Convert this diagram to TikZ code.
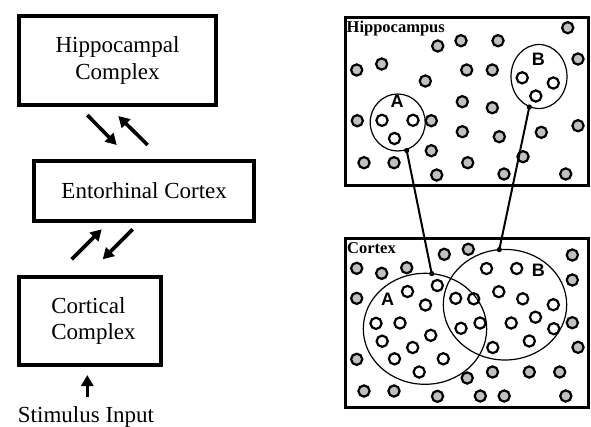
\documentclass[tikz,border=0pt]{standalone}
\usepackage{fontspec}
\setmainfont{Liberation Serif}
\newfontfamily\abfont{Liberation Sans}
\usetikzlibrary{arrows.meta}
\definecolor{cellgray}{RGB}{192,192,192}
\begin{document}
\begin{tikzpicture}[x=1pt,y=-1pt,
  bigbox/.style={draw, line width=4pt, inner sep=0pt, font=\fontsize{23}{26.5}\selectfont, align=center},
  bigtext/.style={inner sep=0pt, font=\fontsize{23}{26.5}\selectfont},
  panel/.style={draw, line width=3pt, inner sep=0pt},
  arr/.style={line width=3.6pt, -{Triangle[length=11pt,width=12pt]}},
  gcell/.style={draw, line width=2.2pt, fill=cellgray},
  wcell/.style={draw, line width=2.2pt},
  assembly/.style={draw, line width=1.2pt},
  link/.style={line width=2pt},
  panellabel/.style={font=\bfseries\fontsize{16.5}{18}\selectfont, anchor=base west, inner sep=0pt},
  ablabel/.style={font=\abfont\bfseries\fontsize{18}{20}\selectfont, inner sep=0pt}
]
\useasboundingbox (0,0) rectangle (591,426);

% ---------- left flow chart ----------
\node[bigbox, minimum width=197.6pt, minimum height=89.3pt] (hc) at (117.5,60.7) {Hippocampal\\Complex};
\node[bigbox, minimum width=219.7pt, minimum height=59.4pt] (ec) at (144.2,191) {Entorhinal Cortex};
\node[bigbox, minimum width=142.6pt, minimum height=88.3pt] (cc) at (90,321.2) {};
\node[bigtext, align=left] (cctext) at ([xshift=3.5pt]cc.center) {Cortical\\Complex};
\node[bigtext, anchor=base] (stim) at (86,422) {Stimulus Input};

\coordinate (a1s) at (87.3,115);  \coordinate (a1e) at (116.7,145);
\coordinate (a2s) at (147.7,145); \coordinate (a2e) at (118.3,116);
\coordinate (a3s) at (71.7,259.3); \coordinate (a3e) at (101.7,229.3);
\coordinate (a4s) at (132.7,229.3); \coordinate (a4e) at (102.7,259.3);
\coordinate (s0) at (87.3,397); \coordinate (s1) at (87.3,375);
\draw[arr] (a1s) -- (a1e);
\draw[arr] (a2s) -- (a2e);
\draw[arr] (a3s) -- (a3e);
\draw[arr] (a4s) -- (a4e);
\draw[arr] (s0) -- (s1);

% ---------- right panels ----------
\node[panel, minimum width=243pt, minimum height=168pt] (hip) at (467,101.5) {};
\node[panel, minimum width=243pt, minimum height=169.6pt] (ctx) at (467,323) {};
\node[panellabel] (hiplabel) at (346.5,32.7) {Hippocampus};
\node[panellabel] (ctxlabel) at (347,253.3) {Cortex};

% assemblies (ellipses)
\draw[assembly] (397.7,122.5) ellipse [x radius=27.5, y radius=28.5];
\draw[assembly] (539,76.5) ellipse [x radius=28, y radius=32];
\draw[assembly] (425,328.8) ellipse [x radius=61.7, y radius=55.5];
\draw[assembly] (505,304.7) ellipse [x radius=61.7, y radius=55.3];

% gray cells, hippocampus
\foreach \p in {(567.7,27.7),(437.7,46),(461,40.7),(498,40.7),(356.7,70),(381.7,64),
  (425.3,81),(466.7,70),(492.3,70),(578,59),(357.3,120.7),(431.3,120.7),(462.3,101.7),
  (492.3,107.7),(462.3,131.7),(499.3,136.7),(541.3,132.3),(578,125.7),(431.3,150.7),
  (364,162.7),(394,162.7),(467.7,162.7),(523,156.7),(436.7,175),(504,174),(565.7,174)}
  \draw[gcell] \p circle[radius=5.6];
% gray cells, cortex
\foreach \p in {(444.3,254.3),(468.3,249.3),(572.3,255),(356.7,268.3),(381.7,273.3),
  (406.7,267.7),(572.3,280),(356.7,298.3),(572.3,322.7),(578,347.3),(356.7,359.3),
  (467.2,378),(492.5,372),(529.3,372),(559.7,372),(364,391),(394,391),(437.5,396.3),
  (480.3,396),(504.2,396),(565.8,396)}
  \draw[gcell] \p circle[radius=5.6];

% white cells, hippocampus
\foreach \p in {(382,120.3),(413,120.3),(394.5,138.5),(522.2,77.8),(553.3,83),(535.8,96)}
  \draw[wcell] \p circle[radius=5.6];
% white cells, cortex
\foreach \p in {(486.5,268.5),(516.7,268.5),(437.3,285.5),(407.5,291.5),(455.7,298.3),
  (473.7,298.8),(498.8,291.7),(522.7,298.8),(553.3,304.7),(425.5,305),(376,323.3),
  (400,323),(480,323),(461,328.3),(511.2,323),(535.5,317.2),(553.8,328.7),(430.7,335.3),
  (382.2,341.2),(412.7,347.5),(492.8,347.5),(529.3,341),(394.5,358.8),(443.3,358.8),
  (419.2,372)}
  \draw[wcell] \p circle[radius=5.6];

% assembly labels
\node[ablabel] (hAlab) at (397,101.7) {A};
\node[ablabel] (hBlab) at (538.3,59.3) {B};
\node[ablabel] (cAlab) at (387.7,299) {A};
\node[ablabel] (cBlab) at (538.3,270.3) {B};

% links between assemblies
\coordinate (hA) at (406.7,150.5);
\coordinate (hB) at (529.3,107);
\coordinate (cA) at (431.7,273.6);
\coordinate (cB) at (499.3,249.6);
\draw[link] (hA) -- (cA);
\draw[link] (hB) -- (cB);
\foreach \d in {hA,hB,cA,cB}
  \fill (\d) circle[radius=2.6];
\end{tikzpicture}
\end{document}
